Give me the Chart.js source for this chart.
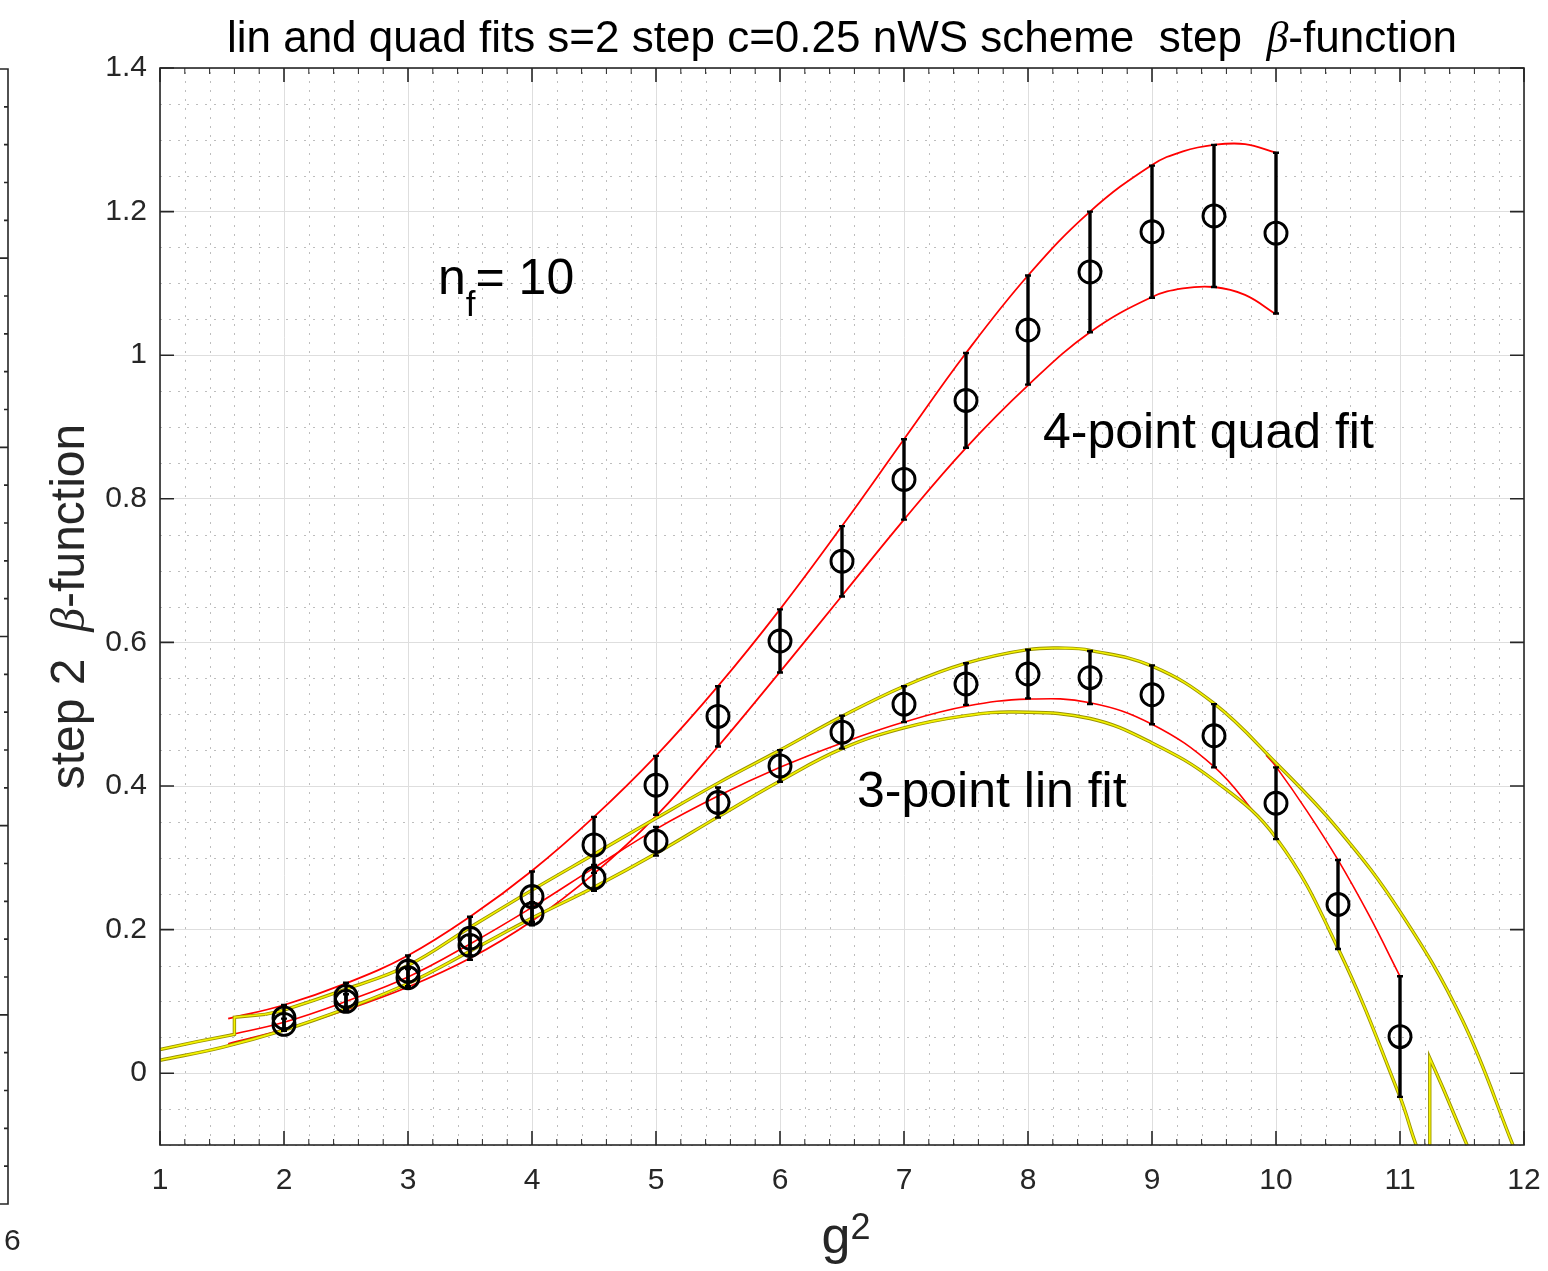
<!DOCTYPE html>
<html>
<head>
<meta charset="utf-8">
<script src="https://cdn.jsdelivr.net/npm/chart.js@4.4.1/dist/chart.umd.min.js"></script>
<style>
  html, body { margin: 0; padding: 0; background: #fff; }
  #c { display: block; }
</style>
</head>
<body>
<canvas id="c" width="1548" height="1271" style="width:1548px;height:1271px"></canvas>
<script>
// axis ticks
const xTicks = [1, 2, 3, 4, 5, 6, 7, 8, 9, 10, 11, 12];
const xTickLabels = ['1', '2', '3', '4', '5', '6', '7', '8', '9', '10', '11', '12'];
const yTicks = [0, 0.2, 0.4, 0.6, 0.8, 1, 1.2, 1.4];
const yTickLabels = ['0', '0.2', '0.4', '0.6', '0.8', '1', '1.2', '1.4'];

// 4-point quad fit data (g^2, beta, error)
const quadG = [2, 2.5, 3, 3.5, 4, 4.5, 5, 5.5, 6, 6.5, 7, 7.5, 8, 8.5, 9, 9.5, 10];
const quadBeta = [0.077, 0.107, 0.142, 0.188, 0.246, 0.318, 0.401, 0.497, 0.602, 0.713, 0.827, 0.937, 1.035, 1.116, 1.172, 1.194, 1.170];
const quadErr = [0.018, 0.019, 0.022, 0.030, 0.035, 0.039, 0.041, 0.042, 0.044, 0.049, 0.056, 0.066, 0.076, 0.084, 0.092, 0.099, 0.112];

// 3-point lin fit data
const linG = [2, 2.5, 3, 3.5, 4, 4.5, 5, 5.5, 6, 6.5, 7, 7.5, 8, 8.5, 9, 9.5, 10, 10.5, 11];
const linBeta = [0.068, 0.100, 0.133, 0.178, 0.222, 0.272, 0.323, 0.377, 0.428, 0.475, 0.514, 0.542, 0.556, 0.551, 0.527, 0.470, 0.376, 0.235, 0.051];
const linErr = [0.008, 0.010, 0.012, 0.014, 0.016, 0.018, 0.020, 0.021, 0.022, 0.023, 0.025, 0.029, 0.034, 0.037, 0.041, 0.044, 0.050, 0.062, 0.084];

// red bands of the quad fit
const quadHiX = [1.55, 2, 2.5, 3, 3.5, 4, 4.5, 5, 5.5, 6, 6.5, 7, 7.5, 8, 8.5, 9, 9.25, 9.5, 9.75, 10];
const quadHiY = [0.076, 0.095, 0.125, 0.164, 0.218, 0.282, 0.357, 0.442, 0.539, 0.646, 0.762, 0.883, 1.003, 1.111, 1.200, 1.265, 1.284, 1.293, 1.294, 1.282];
const quadLoX = [1.55, 2, 2.5, 3, 3.5, 4, 4.5, 5, 5.5, 6, 6.5, 7, 7.5, 8, 8.5, 9, 9.25, 9.5, 9.75, 10];
const quadLoY = [0.041, 0.061, 0.088, 0.120, 0.160, 0.212, 0.278, 0.358, 0.455, 0.559, 0.665, 0.771, 0.871, 0.958, 1.032, 1.081, 1.093, 1.095, 1.084, 1.057];

// red curves of the lin fit
const linRedX = [1.55, 2, 2.5, 3, 3.5, 4, 4.5, 5, 5.5, 6, 6.5, 7, 7.5, 8, 8.5, 9, 9.5, 9.86];
const linRedY = [0.053, 0.071, 0.100, 0.134, 0.180, 0.231, 0.286, 0.340, 0.386, 0.426, 0.460, 0.489, 0.511, 0.521, 0.516, 0.486, 0.427, 0.356];
const linRed2X = [9.92, 10, 10.25, 10.5, 10.75, 11];
const linRed2Y = [0.443, 0.427, 0.365, 0.297, 0.220, 0.135];

// yellow curves
const yelHiX = [1.85, 2, 2.5, 3, 3.5, 4, 4.5, 5, 5.5, 6, 6.5, 7, 7.5, 8, 8.3, 8.5, 9, 9.5, 10, 10.5, 11, 11.5, 11.91, 12];
const yelHiY = [0.082, 0.088, 0.117, 0.150, 0.203, 0.255, 0.305, 0.355, 0.404, 0.450, 0.497, 0.539, 0.571, 0.590, 0.592, 0.589, 0.567, 0.515, 0.432, 0.340, 0.225, 0.075, -0.100, -0.140];
const yelLoX = [1, 1.5, 2, 2.5, 3, 3.5, 4, 4.5, 5, 5.5, 6, 6.5, 7, 7.5, 7.9, 8.5, 9, 9.5, 10, 10.5, 11, 11.13, 11.2];
const yelLoY = [0.018, 0.036, 0.060, 0.090, 0.125, 0.170, 0.216, 0.259, 0.306, 0.357, 0.407, 0.452, 0.481, 0.498, 0.503, 0.494, 0.460, 0.408, 0.328, 0.174, -0.033, -0.100, -0.125];
const yelStartX = [1, 1.3, 1.6, 1.6, 1.85];
const yelStartY = [0.033, 0.044, 0.054, 0.078, 0.082];
const yelSpikeX = [11.24, 11.24, 11.35, 11.54, 11.58];
const yelSpikeY = [-0.14, 0.021, -0.022, -0.100, -0.118];

const pts = (xs, ys) => xs.map((x, i) => ({ x: x, y: ys[i] }));

const RED = '#ff0000';
const YEL = '#f4f400';
const YEL_EDGE = '#9a9200';
const TXT = '#262626';
const SANS = '"Liberation Sans", Arial, Helvetica, sans-serif';

function curve(data, color, width, smooth) {
    return {
        data: data,
        showLine: true,
        borderColor: color,
        borderWidth: width,
        pointRadius: 0,
        fill: false,
        tension: smooth ? 0.4 : 0
    };
}

const yellowSets = [
    pts(yelHiX, yelHiY),
    pts(yelLoX, yelLoY),
    pts(yelStartX, yelStartY),
    pts(yelSpikeX, yelSpikeY)
];
const yellowSmooth = [true, true, false, false];

const datasets = [
    {
        data: pts(quadG, quadBeta), pointRadius: 11, pointStyle: 'circle',
        borderColor: '#000', pointBorderWidth: 2.9, backgroundColor: 'rgba(0,0,0,0)', showLine: false
    },
    {
        data: pts(linG, linBeta), pointRadius: 11, pointStyle: 'circle',
        borderColor: '#000', pointBorderWidth: 2.9, backgroundColor: 'rgba(0,0,0,0)', showLine: false
    }
];
yellowSets.forEach((d, i) => datasets.push(curve(d, YEL, 1.6, yellowSmooth[i])));
yellowSets.forEach((d, i) => datasets.push(curve(d, YEL_EDGE, 3.4, yellowSmooth[i])));
datasets.push(curve(pts(quadHiX, quadHiY), RED, 1.8, true));
datasets.push(curve(pts(quadLoX, quadLoY), RED, 1.8, true));
datasets.push(curve(pts(linRedX, linRedY), RED, 1.6, true));
datasets.push(curve(pts(linRed2X, linRed2Y), RED, 1.6, true));

function richText(ctx, parts, x, y, align) {
    let w = 0;
    parts.forEach(p => { ctx.font = p.font; p.w = ctx.measureText(p.text).width; w += p.w; });
    let cx = align === 'center' ? x - w / 2 : x;
    ctx.textAlign = 'left';
    ctx.textBaseline = 'alphabetic';
    parts.forEach(p => {
        ctx.font = p.font;
        ctx.fillText(p.text, cx, y + (p.dy || 0));
        cx += p.w;
    });
}

const framePlugin = {
    id: 'frame',
    beforeDatasetsDraw(chart) {
        // dotted minor grid
        const ctx = chart.ctx, a = chart.chartArea;
        const xs = chart.scales.x, ys = chart.scales.y;
        ctx.save();
        ctx.strokeStyle = '#bdbdbd';
        ctx.lineWidth = 1;
        ctx.setLineDash([2, 7]);
        for (let k = 0; k <= 55; k++) {
            if (k % 5 === 0) continue;
            const px = Math.round(xs.getPixelForValue(1 + k * 0.2)) + 0.5;
            ctx.beginPath(); ctx.moveTo(px, a.bottom); ctx.lineTo(px, a.top); ctx.stroke();
        }
        for (let k = -2; k <= 28; k++) {
            if (k % 4 === 0) continue;
            const py = Math.round(ys.getPixelForValue(k * 0.05)) + 0.5;
            ctx.beginPath(); ctx.moveTo(a.left, py); ctx.lineTo(a.right, py); ctx.stroke();
        }
        ctx.restore();
    },
    afterDatasetsDraw(chart) {
        const ctx = chart.ctx, a = chart.chartArea;
        const xs = chart.scales.x, ys = chart.scales.y;
        ctx.save();
        ctx.beginPath(); ctx.rect(a.left, a.top, a.right - a.left, a.bottom - a.top); ctx.clip();
        // error bars
        const bars = (g, b, e) => {
            g.forEach((x, i) => {
                const px = xs.getPixelForValue(x);
                const p1 = ys.getPixelForValue(b[i] + e[i]);
                const p2 = ys.getPixelForValue(b[i] - e[i]);
                ctx.strokeStyle = '#000';
                ctx.lineWidth = 3.4;
                ctx.beginPath(); ctx.moveTo(px, p1); ctx.lineTo(px, p2); ctx.stroke();
                ctx.lineWidth = 2.4;
                ctx.beginPath();
                ctx.moveTo(px - 3, p1); ctx.lineTo(px + 3, p1);
                ctx.moveTo(px - 3, p2); ctx.lineTo(px + 3, p2);
                ctx.stroke();
            });
        };
        bars(quadG, quadBeta, quadErr);
        bars(linG, linBeta, linErr);
        ctx.restore();

        // axes box with inward ticks
        ctx.save();
        ctx.strokeStyle = TXT;
        ctx.lineWidth = 1.6;
        ctx.strokeRect(a.left, a.top, a.right - a.left, a.bottom - a.top);
        ctx.beginPath();
        xTicks.forEach(v => {
            const px = xs.getPixelForValue(v);
            ctx.moveTo(px, a.bottom); ctx.lineTo(px, a.bottom - 14);
            ctx.moveTo(px, a.top); ctx.lineTo(px, a.top + 14);
        });
        yTicks.forEach(v => {
            const py = ys.getPixelForValue(v);
            ctx.moveTo(a.left, py); ctx.lineTo(a.left + 14, py);
            ctx.moveTo(a.right, py); ctx.lineTo(a.right - 14, py);
        });
        ctx.stroke();
        ctx.lineWidth = 1;
        ctx.beginPath();
        for (let k = 1; k < 55; k++) {
            if (k % 5 === 0) continue;
            const px = xs.getPixelForValue(1 + k * 0.2);
            ctx.moveTo(px, a.bottom); ctx.lineTo(px, a.bottom - 6);
            ctx.moveTo(px, a.top); ctx.lineTo(px, a.top + 6);
        }
        ctx.stroke();
        ctx.restore();
    },
    afterDraw(chart) {
        const ctx = chart.ctx, a = chart.chartArea;
        ctx.save();
        ctx.fillStyle = '#000';
        const cx = (a.left + a.right) / 2;
        richText(ctx, [
            { text: 'lin and quad fits s=2 step c=0.25 nWS scheme  step  ', font: '44px ' + SANS },
            { text: 'β', font: 'italic 44px "Liberation Serif", serif' },
            { text: '-function', font: '44px ' + SANS }
        ], cx, 52, 'center');

        ctx.fillStyle = TXT;
        richText(ctx, [
            { text: 'g', font: '52px ' + SANS },
            { text: '2', font: '36px ' + SANS, dy: -14 }
        ], cx + 4, 1253, 'center');

        ctx.save();
        ctx.translate(84, (a.top + a.bottom) / 2);
        ctx.rotate(-Math.PI / 2);
        richText(ctx, [
            { text: 'step 2  ', font: '48px ' + SANS },
            { text: 'β', font: 'italic 48px "Liberation Serif", serif' },
            { text: '-function', font: '48px ' + SANS }
        ], 0, 0, 'center');
        ctx.restore();

        ctx.fillStyle = '#000';
        richText(ctx, [
            { text: 'n', font: '50px ' + SANS },
            { text: 'f', font: '35px ' + SANS, dy: 22 },
            { text: '= 10', font: '50px ' + SANS }
        ], 438, 294, 'left');
        richText(ctx, [{ text: '4-point quad fit', font: '50px ' + SANS }], 1043, 448, 'left');
        richText(ctx, [{ text: '3-point lin fit', font: '50px ' + SANS }], 857, 807, 'left');

        // edge of the neighbouring panel
        ctx.strokeStyle = TXT;
        ctx.lineWidth = 1.6;
        ctx.beginPath();
        ctx.moveTo(0, 69); ctx.lineTo(8, 69); ctx.lineTo(8, 1204); ctx.lineTo(0, 1204);
        for (let k = 1; k < 30; k++) {
            const py = 69 + k * (1204 - 69) / 30;
            const len = k % 5 === 0 ? 8 : 4;
            ctx.moveTo(8, py); ctx.lineTo(8 - len, py);
        }
        ctx.stroke();
        ctx.fillStyle = TXT;
        ctx.font = '30px ' + SANS;
        ctx.textAlign = 'left';
        ctx.fillText('6', 4, 1250);
        ctx.restore();
    }
};

new Chart(document.getElementById('c').getContext('2d'), {
    type: 'scatter',
    data: { datasets: datasets },
    options: {
        responsive: false,
        animation: false,
        devicePixelRatio: 1,
        layout: { padding: { top: 68, right: 24, left: 0, bottom: 0 } },
        plugins: { legend: { display: false }, tooltip: { enabled: false } },
        scales: {
            x: {
                type: 'linear', min: 1, max: 12,
                afterBuildTicks: s => { s.ticks = xTicks.map(v => ({ value: v })); },
                afterFit: s => { s.height = 126; s.paddingLeft = 0; s.paddingRight = 0; },
                ticks: {
                    color: TXT, padding: 18, maxRotation: 0,
                    font: { family: SANS, size: 30 },
                    callback: (v, i) => xTickLabels[i]
                },
                grid: { color: '#dedede', lineWidth: 1, drawTicks: false },
                border: { display: false }
            },
            y: {
                type: 'linear', min: -0.1, max: 1.4,
                afterBuildTicks: s => { s.ticks = yTicks.map(v => ({ value: v })); },
                afterFit: s => { s.width = 160; s.paddingTop = 0; s.paddingBottom = 0; },
                ticks: {
                    color: TXT, padding: 13,
                    font: { family: SANS, size: 30 },
                    callback: (v, i) => yTickLabels[i]
                },
                grid: { color: '#dedede', lineWidth: 1, drawTicks: false },
                border: { display: false }
            }
        }
    },
    plugins: [framePlugin]
});
</script>
</body>
</html>
